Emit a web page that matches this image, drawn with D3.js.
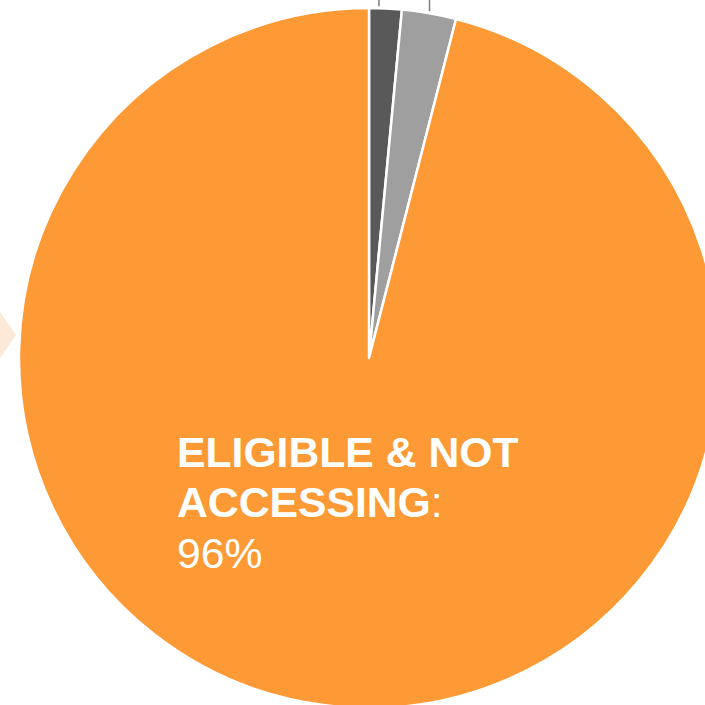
<!DOCTYPE html>
<html><head><meta charset="utf-8">
<script src="https://cdn.jsdelivr.net/npm/d3@7"></script>
<style>html,body{margin:0;padding:0;background:#fff;overflow:hidden}</style>
</head><body>
<svg id="chart" width="705" height="705"></svg>
<script>
const categories = ["Accessing", "Not eligible", "Eligible & not accessing"];
const values = [1.5, 2.5, 96];
const colors = ["#595959", "#9f9f9f", "#fd9a35"];
const labelLines = ["ELIGIBLE & NOT", "ACCESSING", "96%"];

const W = 705, H = 705;
const cx = 369, cy = 358, R = 350;
const svg = d3.select("#chart");

// background chevron (partially visible at left)
svg.append("path")
  .attr("d", "M-40,300 L-8,300 L16,335 L-8,370 L-40,370 Z")
  .attr("fill", "#fde9d8");

const pie = d3.pie().sort(null).value(d => d)(values);
const arc = d3.arc().innerRadius(0).outerRadius(R);
const g = svg.append("g").attr("transform", `translate(${cx},${cy})`);

g.selectAll("path.slice").data(pie).join("path")
  .attr("class", "slice")
  .attr("d", arc)
  .attr("fill", (d, i) => colors[i])
  .attr("stroke", "#fff")
  .attr("stroke-width", 2.5)
  .attr("stroke-linejoin", "round");

// leader lines for the two small slices (labels are off the top edge)
pie.slice(0, 2).forEach((d, i) => {
  const f = i === 0 ? 0.3 : 0.5;
  const a = d.startAngle + (d.endAngle - d.startAngle) * f;
  const x = Math.sin(a) * (R + 2);
  const y = -Math.cos(a) * (R + 2);
  g.append("line")
    .attr("x1", x).attr("x2", x)
    .attr("y1", y).attr("y2", -cy)
    .attr("stroke", "#7f7f7f").attr("stroke-width", 1.5);
});

// label
const t = svg.append("text")
  .attr("x", 177).attr("y", 467)
  .attr("fill", "#fff")
  .attr("font-family", "Liberation Sans, Arial, sans-serif")
  .attr("font-size", 42.7);
t.append("tspan").attr("x", 177).attr("font-weight", "bold").text(labelLines[0]);
const l2 = t.append("tspan").attr("x", 177).attr("dy", 50);
l2.append("tspan").attr("font-weight", "bold").text(labelLines[1]);
l2.append("tspan").attr("font-weight", "normal").text(":");
t.append("tspan").attr("x", 177).attr("dy", 51).attr("font-weight", "normal").text(labelLines[2]);
</script>
</body></html>
